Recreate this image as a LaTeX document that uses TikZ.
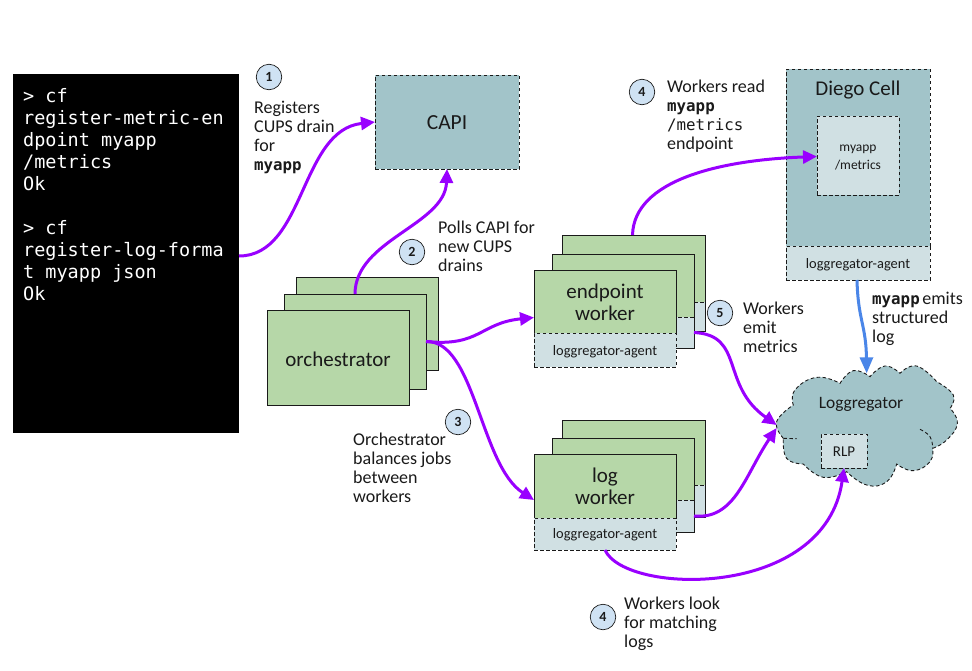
\documentclass[tikz,border=0pt]{standalone}
\usepackage{fontspec}
\setmainfont{Carlito}
\setmonofont{DejaVu Sans Mono}
\usetikzlibrary{arrows.meta}
\definecolor{teal1}{HTML}{A2C4C9}
\definecolor{pale}{HTML}{D0E0E3}
\definecolor{grn}{HTML}{B6D7A8}
\definecolor{purp}{HTML}{9900FF}
\definecolor{blu}{HTML}{4A86E8}
\definecolor{num}{HTML}{CFE2F3}
\definecolor{ink}{HTML}{1A1A1A}
\tikzset{
 box/.style={draw=ink,line width=0.9pt,minimum width=#1,anchor=north west,inner sep=0pt,outer sep=0pt,text=ink,align=center},
 dbox/.style={box=#1,dash pattern=on 3.5pt off 2.5pt},
 bare/.style={fill=pale,minimum width=#1,anchor=north west,inner sep=0pt,outer sep=0pt},
 edgeline/.style={draw=ink,line width=0.9pt},
 dashline/.style={draw=ink,line width=0.9pt,dash pattern=on 3.5pt off 2.5pt},
 conn/.style={draw=purp,line width=3pt,-{Triangle[length=14pt,width=13pt]}},
 bconn/.style={draw=blu,line width=3pt,-{Triangle[length=16pt,width=13pt]}},
 numc/.style={circle,draw=ink,line width=0.7pt,fill=num,minimum size=25.5pt,inner sep=0pt,font=\fontsize{14}{14}\selectfont\bfseries,text=ink},
 lab/.style={anchor=north west,align=left,inner sep=0pt,text=ink,font=\fontsize{18}{19}\selectfont},
 big/.style={font=\fontsize{21}{22}\selectfont},
 agentfont/.style={font=\fontsize{14.4}{16}\selectfont},
}
\newcommand{\mymono}[1]{{\fontsize{15.8}{19}\selectfont\ttfamily #1}}
\newcommand{\mybold}[1]{{\fontsize{15.8}{19}\selectfont\ttfamily\bfseries #1}}
\newcommand{\dn}[2]{\raisebox{-#1}[\height][\depth]{#2}}
\begin{document}
\begin{tikzpicture}[x=1pt,y=-1pt]
\useasboundingbox (0,0) rectangle (972,670);
\fill[white] (0,0) rectangle (972,670);
% terminal
\node[anchor=north west,fill=black,minimum width=226pt,minimum height=359pt,inner sep=0pt,outer sep=0pt] (term) at (13,74) {};
\node[anchor=north west,inner sep=0pt,text=white,align=left,font=\fontsize{18.5}{22}\selectfont\ttfamily] (termtext) at (23,88) {> cf\\register-metric-en\\dpoint myapp\\/metrics\\Ok\\[22pt]> cf\\register-log-forma\\t myapp json\\Ok};
% CAPI
\node[dbox=144pt,minimum height=94pt,fill=teal1,font=\fontsize{21.5}{22}\selectfont] (capi) at (375,75) {\dn{1pt}{CAPI}};
% Diego
\node[dbox=144pt,minimum height=177pt,fill=teal1] (diego) at (786,69) {};
\node[anchor=north,inner sep=0pt,text=ink,big] (diegot) at (858,81) {Diego Cell};
\node[dbox=144pt,minimum height=34pt,fill=pale,agentfont] (dagent) at (786,246) {\dn{1.5pt}{loggregator-agent}};
\node[dbox=82pt,minimum height=79pt,fill=pale,font=\fontsize{13.5}{18}\selectfont] (myapp) at (817,116) {\dn{2.5pt}{myapp}\\\dn{2.5pt}{/metrics}};
% orchestrator stack
\node[box=142pt,minimum height=93pt,fill=grn] (o3) at (296,277) {};
\node[box=142pt,minimum height=95pt,fill=grn] (o2) at (284,294) {};
\node[box=142pt,minimum height=95pt,fill=grn,big] (orch) at (267,310) {\dn{1.5pt}{orchestrator}};
% endpoint stack
\node[box=143pt,minimum height=67pt,fill=grn] (e3) at (562,235) {};
\node[bare=143pt,minimum height=29pt] (e3a) at (562,302) {};
\draw[edgeline] (e3a.north east) -- (e3a.south east) -- (e3a.south west);
\draw[dashline] (e3a.north west) -- (e3a.north east);
\node[box=142pt,minimum height=63pt,fill=grn] (e2) at (552,254) {};
\node[bare=142pt,minimum height=31pt] (e2a) at (552,317) {};
\draw[edgeline] (e2a.north east) -- (e2a.south east) -- (e2a.south west);
\draw[dashline] (e2a.north west) -- (e2a.north east);
\node[box=142pt,minimum height=63pt,fill=grn,big] (e1) at (534,270) {\dn{1pt}{endpoint}\\\dn{1pt}{worker}};
\node[dbox=142pt,minimum height=34pt,fill=pale,agentfont] (e1a) at (534,333) {\dn{1.5pt}{loggregator-agent}};
% log stack
\node[box=143pt,minimum height=65pt,fill=grn] (l3) at (562,420) {};
\node[bare=143pt,minimum height=32pt] (l3a) at (562,485) {};
\draw[edgeline] (l3a.north east) -- (l3a.south east) -- (l3a.south west);
\draw[dashline] (l3a.north west) -- (l3a.north east);
\node[box=142pt,minimum height=62pt,fill=grn] (l2) at (552,438) {};
\node[bare=142pt,minimum height=32pt] (l2a) at (552,500) {};
\draw[edgeline] (l2a.north east) -- (l2a.south east) -- (l2a.south west);
\draw[dashline] (l2a.north west) -- (l2a.north east);
\node[box=142pt,minimum height=64pt,fill=grn,big] (l1) at (534,454) {log\\worker};
\node[dbox=142pt,minimum height=32pt,fill=pale,agentfont] (l1a) at (534,518) {\dn{1pt}{loggregator-agent}};
% cloud
\begin{scope}[shift={(750,340)},scale=1/3]
\path[fill=teal1,draw=ink,line width=0.9pt,dash pattern=on 3.5pt off 2.5pt]
 plot[smooth,tension=0.8] coordinates {(100,295) (80,245) (130,195)}
 -- plot[smooth,tension=0.8] coordinates {(130,195) (135,150) (200,112) (270,130)}
 -- plot[smooth,tension=0.8] coordinates {(270,130) (310,92) (360,110)}
 -- plot[smooth,tension=0.8] coordinates {(360,110) (405,78) (450,100)}
 -- plot[smooth,tension=0.8] coordinates {(450,100) (500,78) (560,125)}
 -- plot[smooth,tension=0.8] coordinates {(560,125) (610,165) (600,205)}
 -- plot[smooth,tension=0.8] coordinates {(600,205) (622,250) (590,300) (548,325)}
 -- plot[smooth,tension=0.8] coordinates {(548,325) (540,365) (490,392) (440,372)}
 -- plot[smooth,tension=0.8] coordinates {(440,372) (410,425) (350,435) (290,395)}
 -- plot[smooth,tension=0.8] coordinates {(290,395) (220,412) (160,372)}
 -- plot[smooth,tension=0.8] coordinates {(160,372) (110,355) (100,295)} -- cycle;
\draw[draw=ink,line width=0.9pt,dash pattern=on 3.5pt off 2.5pt] plot[smooth,tension=0.8] coordinates {(510,268) (540,290) (548,325)};
\draw[draw=ink,line width=0.9pt,dash pattern=on 3.5pt off 2.5pt] (100,295) -- (140,296);
\coordinate (cloudA) at (80,255);
\coordinate (cloudB) at (80,264);
\coordinate (cloudT) at (350,100);
\end{scope}
\node[anchor=north,inner sep=0pt,text=ink,font=\fontsize{17.4}{18}\selectfont] (logg) at (861,397) {Loggregator};
\node[dbox=46pt,minimum height=34pt,fill=pale,font=\fontsize{15}{15}\selectfont] (rlp) at (821,434) {\dn{1pt}{RLP}};
% connectors
\draw[conn] ([yshift=-2.5pt]term.east) .. controls (305,256) and (300,130) .. (capi.west);
\draw[conn] (o2.north) .. controls (355,240) and (445,225) .. ([xshift=0pt]capi.south);
\draw[conn] (o2.east) .. controls (480,347) and (480,323) .. ([yshift=-16pt]e1.west);
\draw[conn] (o2.east) .. controls (475,340) and (480,465) .. ([yshift=-14pt]l1.west);
\draw[conn] ([xshift=-1pt]e3.north) .. controls (634,180) and (720,160) .. ([yshift=-1pt]myapp.west);
\draw[conn] (e2a.east) .. controls (745,335) and (720,385) .. (cloudA);
\draw[conn] (l2a.east) .. controls (735,520) and (745,475) .. (cloudB);
\draw[conn] (l1a.south) .. controls (625,595) and (825,600) .. (rlp.south);
\draw[bconn] ([xshift=-1pt]dagent.south) .. controls (858,320) and (866,325) .. (cloudT);
% numbers
\node[numc] (n1) at (269,77) {1};
\node[numc] (n2) at (412,252) {2};
\node[numc] (n4a) at (642,92) {4};
\node[numc] (n5) at (720,313) {5};
\node[numc] (n3) at (458,422) {3};
\node[numc] (n4b) at (603,617) {4};
% labels
\node[lab] (t1) at (254,100.5) {Registers\\CUPS drain\\for\\\mybold{myapp}};
\node[lab] (t2) at (438,221) {Polls CAPI for\\new CUPS\\drains};
\node[lab] (t3) at (353,433) {Orchestrator\\balances jobs\\between\\workers};
\node[lab] (t4) at (667,80) {Workers read\\\mybold{myapp}\\\mymono{/metrics}\\endpoint};
\node[lab] (t5) at (743,302) {Workers\\emit\\metrics};
\node[lab] (t6) at (872,292) {\mybold{myapp}\hspace{-1.5pt} emits\\structured\\log};
\node[lab] (t7) at (624,597) {Workers look\\for matching\\logs};
\end{tikzpicture}
\end{document}
